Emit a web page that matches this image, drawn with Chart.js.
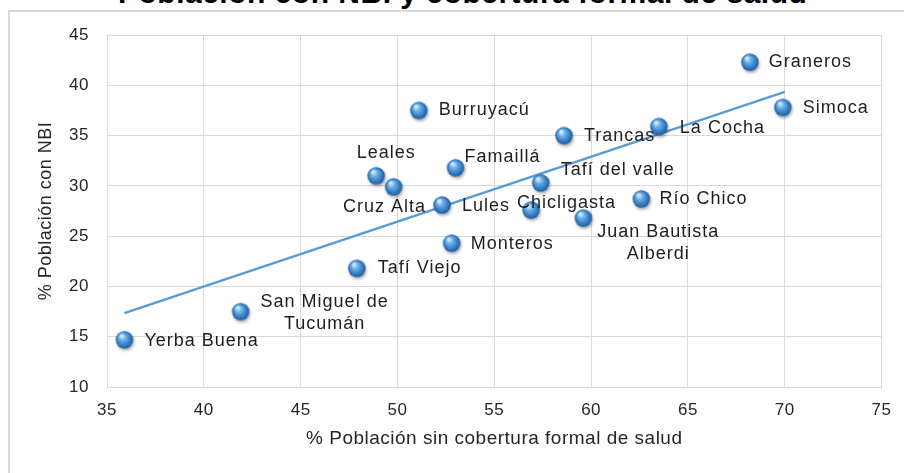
<!DOCTYPE html>
<html lang="es">
<head>
<meta charset="UTF-8">
<title>Población con NBI y cobertura formal de salud</title>
<script src="https://cdn.jsdelivr.net/npm/chart.js@4"></script>
<style>
  html, body { margin: 0; padding: 0; background: #fff; overflow: hidden; }
  #marco {
    position: absolute; left: 8px; top: 10px; width: 920px; height: 490px;
    border-top: 2px solid #d9d9d9; border-left: 2px solid #d9d9d9;
  }
  #titulo {
    position: absolute; left: 118px; top: -22px;
    font: bold 30px 'Liberation Sans', Arial, sans-serif;
    letter-spacing: 0.5px; line-height: 30px; white-space: nowrap; color: #000;
  }
  canvas { position: absolute; left: 0; top: 0; }
</style>
</head>
<body>
<div id="marco"></div>
<div id="titulo">Población con NBI y cobertura formal de salud</div>
<canvas id="grafico" width="904" height="473"></canvas>
<script>
// datos
const municipios = ['Yerba Buena', 'San Miguel de\nTucumán', 'Tafí Viejo', 'Monteros', 'Cruz Alta',
  'Leales', 'Lules', 'Famaillá', 'Burruyacú', 'Chicligasta', 'Tafí del valle', 'Trancas',
  'Juan Bautista\nAlberdi', 'Río Chico', 'La Cocha', 'Graneros', 'Simoca'];
const sinCobertura = [35.9, 41.9, 47.9, 52.8, 49.8, 48.9, 52.3, 53.0, 51.1, 56.9, 57.4, 58.6, 59.6, 62.6, 63.5, 68.2, 69.9];
const conNBI = [14.7, 17.5, 21.8, 24.3, 29.9, 31.0, 28.1, 31.8, 37.5, 27.6, 30.3, 35.0, 26.8, 28.7, 35.9, 42.3, 37.8];
const tendenciaX = [35.9, 70.0];
const tendenciaY = [17.35, 39.35];
const ticksX = [35, 40, 45, 50, 55, 60, 65, 70, 75];
const ticksY = [10, 15, 20, 25, 30, 35, 40, 45];

// donde va cada etiqueta respecto de su punto
const ubicacion = [
  { dx: 20, dy: 1, align: 'left' },     // Yerba Buena
  { dx: 84, dy: -10, align: 'center' }, // San Miguel de Tucumán
  { dx: 21, dy: 0, align: 'left' },     // Tafí Viejo
  { dx: 19, dy: 1, align: 'left' },     // Monteros
  { dx: -9, dy: 20, align: 'center' },  // Cruz Alta
  { dx: 10, dy: -23, align: 'center' }, // Leales
  { dx: 20, dy: 1, align: 'left' },     // Lules
  { dx: 9, dy: -11, align: 'left' },    // Famaillá
  { dx: 20, dy: 0, align: 'left' },     // Burruyacú
  { dx: -14, dy: -7, align: 'left' },   // Chicligasta
  { dx: 20, dy: -13, align: 'left' },   // Tafí del valle
  { dx: 20, dy: 0, align: 'left' },     // Trancas
  { dx: 75, dy: 14, align: 'center' },  // Juan Bautista Alberdi
  { dx: 18, dy: 0, align: 'left' },     // Río Chico
  { dx: 21, dy: 2, align: 'left' },     // La Cocha
  { dx: 19, dy: 0, align: 'left' },     // Graneros
  { dx: 20, dy: 1, align: 'left' }      // Simoca
];

const fuente = "'Liberation Sans', Arial, sans-serif";

// marcador tipo esfera (como el de Excel)
function esfera() {
  const c = document.createElement('canvas');
  c.width = 28; c.height = 28;
  const g = c.getContext('2d');
  g.shadowColor = 'rgba(0,0,0,0.35)';
  g.shadowBlur = 3;
  g.shadowOffsetX = 1;
  g.shadowOffsetY = 2;
  const grad = g.createRadialGradient(11, 10, 1, 14, 14, 9);
  grad.addColorStop(0, '#d2eafc');
  grad.addColorStop(0.3, '#6fb0e6');
  grad.addColorStop(0.75, '#2f79c1');
  grad.addColorStop(1, '#1f5a96');
  g.fillStyle = grad;
  g.beginPath();
  g.arc(14, 14, 8.7, 0, Math.PI * 2);
  g.fill();
  return c;
}

const puntos = sinCobertura.map((x, i) => ({ x: x, y: conNBI[i] }));
const tendencia = tendenciaX.map((x, i) => ({ x: x, y: tendenciaY[i] }));

const espaciado = {
  id: 'espaciado',
  beforeDraw(chart) { chart.ctx.letterSpacing = '0.5px'; }
};

const etiquetas = {
  id: 'etiquetas',
  afterDatasetsDraw(chart) {
    const ctx = chart.ctx;
    const meta = chart.getDatasetMeta(0);
    ctx.save();
    ctx.letterSpacing = '1px';
    ctx.font = '18px ' + fuente;
    ctx.fillStyle = '#1e1e1e';
    ctx.textBaseline = 'middle';
    meta.data.forEach((p, i) => {
      const u = ubicacion[i];
      ctx.textAlign = u.align;
      municipios[i].split('\n').forEach((t, k) => {
        ctx.fillText(t, p.x + u.dx, p.y + u.dy + k * 22);
      });
    });
    ctx.restore();
  }
};

new Chart(document.getElementById('grafico'), {
  type: 'scatter',
  data: {
    datasets: [
      { label: 'Municipios', data: puntos, pointStyle: esfera(), pointRadius: 9, order: 1 },
      { label: 'Tendencia', data: tendencia, showLine: true, borderColor: '#5b9bd5', borderWidth: 2.5, pointRadius: 0, order: 2 }
    ]
  },
  options: {
    responsive: false,
    animation: false,
    layout: { padding: { left: 10, right: 22, top: 35, bottom: 0 } },
    plugins: { legend: { display: false }, tooltip: { enabled: false } },
    scales: {
      x: {
        type: 'linear', min: 35, max: 75,
        afterBuildTicks: s => { s.ticks = ticksX.map(v => ({ value: v })); },
        afterFit: s => { s.height = 86; },
        grid: { color: '#d9d9d9', drawTicks: false },
        border: { color: '#d9d9d9' },
        ticks: { padding: 13, color: '#262626', font: { family: fuente, size: 17 } },
        title: { display: true, text: '% Población sin cobertura formal de salud', color: '#262626',
          font: { family: fuente, size: 19 }, padding: { top: 0, bottom: 23 } }
      },
      y: {
        type: 'linear', min: 10, max: 45,
        afterBuildTicks: s => { s.ticks = ticksY.map(v => ({ value: v })); },
        afterFit: s => { s.width = 97; },
        grid: { color: '#d9d9d9', drawTicks: false },
        border: { color: '#d9d9d9' },
        ticks: { padding: 18, color: '#262626', font: { family: fuente, size: 17 } },
        title: { display: true, text: '% Población con NBI', color: '#262626',
          font: { family: fuente, size: 18 }, padding: { top: 25, bottom: 0 } }
      }
    }
  },
  plugins: [espaciado, etiquetas]
});
</script>
</body>
</html>
